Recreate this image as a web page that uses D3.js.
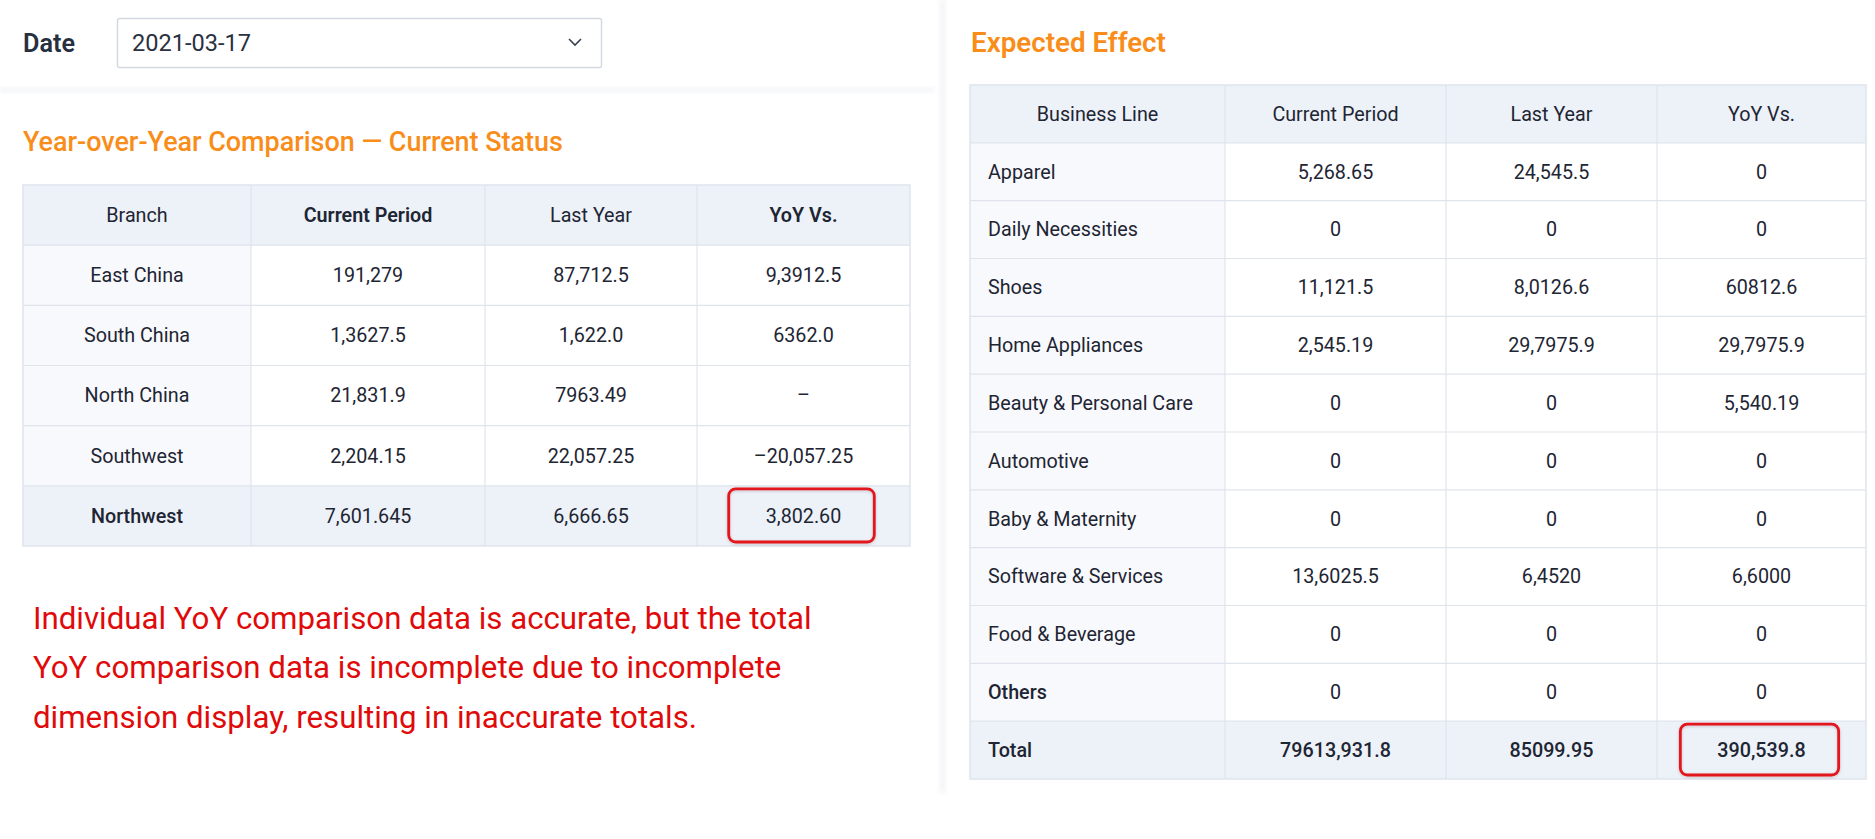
<!DOCTYPE html>
<html>
<head>
<meta charset="utf-8">
<script src="https://cdn.jsdelivr.net/npm/d3@7"></script>
<style>
  body { margin: 0; background: #fff; }
  svg { display: block; }
</style>
</head>
<body>
<svg id="chart" width="1875" height="839"></svg>
<script>
// ---- data ----
var dateValue = '2021-03-17';

var branchColumns = ['Branch', 'Current Period', 'Last Year', 'YoY Vs.'];
var branches = ['East China', 'South China', 'North China', 'Southwest', 'Northwest'];
var branchCurrent = ['191,279', '1,3627.5', '21,831.9', '2,204.15', '7,601.645'];
var branchLastYear = ['87,712.5', '1,622.0', '7963.49', '22,057.25', '6,666.65'];
var branchYoY = ['9,3912.5', '6362.0', '–', '–20,057.25', '3,802.60'];

var lineColumns = ['Business Line', 'Current Period', 'Last Year', 'YoY Vs.'];
var businessLines = ['Apparel', 'Daily Necessities', 'Shoes', 'Home Appliances',
  'Beauty & Personal Care', 'Automotive', 'Baby & Maternity',
  'Software & Services', 'Food & Beverage', 'Others'];
var lineCurrent = ['5,268.65', '0', '11,121.5', '2,545.19', '0', '0', '0', '13,6025.5', '0', '0'];
var lineLastYear = ['24,545.5', '0', '8,0126.6', '29,7975.9', '0', '0', '0', '6,4520', '0', '0'];
var lineYoY = ['0', '0', '60812.6', '29,7975.9', '5,540.19', '0', '0', '6,6000', '0', '0'];
var lineTotal = ['Total', '79613,931.8', '85099.95', '390,539.8'];

var leftTitle = 'Year-over-Year Comparison — Current Status';
var rightTitle = 'Expected Effect';
var noteLines = [
  'Individual YoY comparison data is accurate, but the total',
  'YoY comparison data is incomplete due to incomplete',
  'dimension display, resulting in inaccurate totals.'
];

// ---- look ----
var FONT = 'Roboto, "Noto Sans", sans-serif';
var ORANGE = '#f98d1a';
var INK = '#1e2533';
var HEAD_BG = '#edf1f8';
var FIRST_BG = '#f8f9fc';
var GRID = '#dfe4ec';
var RED = '#e2161b';

var svg = d3.select('#chart');

// font size that makes a sample string span a given width
function fitSize(sample, weight, width) {
  var t = svg.append('text')
    .attr('font-family', FONT)
    .attr('font-weight', weight)
    .attr('font-size', 100)
    .text(sample);
  var w = t.node().getComputedTextLength();
  t.remove();
  return 100 * width / w;
}

var cellSize = fitSize('Beauty & Personal Care', 400, 205);
var titleSize = fitSize(leftTitle, 500, 540);
var rightTitleSize = fitSize(rightTitle, 600, 195);
var noteSize = fitSize(noteLines[0], 400, 779);
var dateLabelSize = fitSize('Date', 600, 52);
var dateValueSize = fitSize(dateValue, 400, 119);

var defs = svg.append('defs');
defs.append('filter').attr('id', 'soft')
  .attr('x', '-50%').attr('y', '-50%').attr('width', '200%').attr('height', '200%')
  .append('feGaussianBlur').attr('stdDeviation', 2.5);
var glow = defs.append('filter').attr('id', 'glow')
  .attr('x', '-20%').attr('y', '-30%').attr('width', '140%').attr('height', '160%');
glow.append('feDropShadow').attr('dx', 0).attr('dy', 1).attr('stdDeviation', 1.5)
  .attr('flood-color', '#000').attr('flood-opacity', 0.18);

// panel separators
svg.append('rect').attr('x', 0).attr('y', 88).attr('width', 935).attr('height', 4)
  .attr('fill', '#f0f2f5').attr('filter', 'url(#soft)');
svg.append('rect').attr('x', 940).attr('y', 0).attr('width', 5).attr('height', 793)
  .attr('fill', '#f2f3f6').attr('filter', 'url(#soft)');

// ---- date picker ----
svg.append('text')
  .attr('x', 23).attr('y', 43).attr('dy', '0.35em')
  .attr('font-family', FONT).attr('font-weight', 600)
  .attr('font-size', dateLabelSize).attr('fill', '#27303f')
  .text('Date');
svg.append('rect')
  .attr('x', 117.5).attr('y', 18.5).attr('width', 484).attr('height', 49)
  .attr('rx', 2).attr('fill', '#fff').attr('stroke', '#d3d9e3').attr('stroke-width', 1.5);
svg.append('text')
  .attr('x', 132).attr('y', 43).attr('dy', '0.35em')
  .attr('font-family', FONT).attr('font-size', dateValueSize).attr('fill', '#2a3140')
  .text(dateValue);
svg.append('path')
  .attr('d', d3.line()([[569, 39], [575, 45], [581, 39]]))
  .attr('fill', 'none').attr('stroke', '#3a4252').attr('stroke-width', 1.6);

// ---- titles ----
svg.append('text')
  .attr('x', 23).attr('y', 142).attr('dy', '0.35em')
  .attr('font-family', FONT).attr('font-weight', 500)
  .attr('font-size', titleSize).attr('fill', ORANGE)
  .text(leftTitle);
svg.append('text')
  .attr('x', 971).attr('y', 42).attr('dy', '0.35em')
  .attr('font-family', FONT).attr('font-weight', 600)
  .attr('font-size', rightTitleSize).attr('fill', ORANGE)
  .text(rightTitle);

// ---- tables ----
function drawTable(opts) {
  var g = svg.append('g');
  var rows = opts.rows;
  var y = d3.scaleBand()
    .domain(d3.range(rows.length))
    .range([opts.top, opts.bottom]);
  var edges = opts.edges;
  var x0 = function(i) { return edges[i]; };
  var xw = function(i) { return edges[i + 1] - edges[i]; };

  var row = g.selectAll('g.row')
    .data(rows)
    .join('g')
    .attr('class', 'row')
    .attr('transform', function(d, i) { return 'translate(0,' + y(i) + ')'; });

  var cell = row.selectAll('g.cell')
    .data(function(d) {
      return d.cells.map(function(v, j) {
        return { v: v, j: j, row: d };
      });
    })
    .join('g')
    .attr('class', 'cell');

  cell.append('rect')
    .attr('x', function(d) { return x0(d.j); })
    .attr('width', function(d) { return xw(d.j); })
    .attr('height', y.bandwidth())
    .attr('fill', function(d) {
      if (d.row.shaded) return HEAD_BG;
      return d.j === 0 ? FIRST_BG : '#fff';
    });

  cell.append('text')
    .attr('x', function(d) {
      if (d.j === 0 && opts.leftFirst && !d.row.header) return x0(0) + 18;
      return x0(d.j) + xw(d.j) / 2;
    })
    .attr('y', y.bandwidth() / 2)
    .attr('dy', '0.35em')
    .attr('text-anchor', function(d) {
      return d.j === 0 && opts.leftFirst && !d.row.header ? 'start' : 'middle';
    })
    .attr('font-family', FONT)
    .attr('font-size', cellSize)
    .attr('font-weight', function(d) {
      if (d.row.boldCols && d.row.boldCols.indexOf(d.j) >= 0) return d.row.weight || 600;
      return d.row.bold ? 500 : 400;
    })
    .attr('fill', INK)
    .text(function(d) { return d.v; });

  // grid
  g.selectAll('line.h')
    .data(d3.range(1, rows.length))
    .join('line')
    .attr('x1', edges[0]).attr('x2', edges[edges.length - 1])
    .attr('y1', function(i) { return y(i); })
    .attr('y2', function(i) { return y(i); })
    .attr('stroke', GRID).attr('stroke-width', 1.2);
  g.selectAll('line.v')
    .data(edges.slice(1, -1))
    .join('line')
    .attr('x1', function(d) { return d; }).attr('x2', function(d) { return d; })
    .attr('y1', opts.top).attr('y2', opts.bottom)
    .attr('stroke', GRID).attr('stroke-width', 1.2);
  g.append('rect')
    .attr('x', edges[0]).attr('y', opts.top)
    .attr('width', edges[edges.length - 1] - edges[0])
    .attr('height', opts.bottom - opts.top)
    .attr('fill', 'none').attr('stroke', GRID).attr('stroke-width', 1.5);

  // highlight box around the flagged cell
  var hr = opts.highlight[0], hc = opts.highlight[1];
  var ht = row.filter(function(d, i) { return i === hr; })
    .selectAll('text').filter(function(d) { return d.j === hc; });
  var tw = ht.node().getComputedTextLength();
  var cx = x0(hc) + xw(hc) / 2 - 2;
  g.append('rect')
    .attr('x', cx - tw / 2 - 35)
    .attr('y', y(hr) + 3)
    .attr('width', tw + 70)
    .attr('height', y.bandwidth() - 7)
    .attr('rx', 7)
    .attr('fill', 'none')
    .attr('stroke', RED)
    .attr('stroke-width', 2.8)
    .attr('filter', 'url(#glow)');
}

var leftRows = [{ cells: branchColumns, header: true, shaded: true, boldCols: [1, 3] }];
branches.forEach(function(b, i) {
  var last = i === branches.length - 1;
  leftRows.push({
    cells: [b, branchCurrent[i], branchLastYear[i], branchYoY[i]],
    boldCols: last ? [0] : null,
    weight: 500,
    shaded: last
  });
});

drawTable({
  rows: leftRows,
  edges: [23, 251, 485, 697, 910],
  top: 185,
  bottom: 546,
  leftFirst: false,
  highlight: [leftRows.length - 1, 3]
});

var rightRows = [{ cells: lineColumns, header: true, shaded: true }];
businessLines.forEach(function(b, i) {
  rightRows.push({
    cells: [b, lineCurrent[i], lineLastYear[i], lineYoY[i]],
    boldCols: b === 'Others' ? [0] : null,
    weight: 500
  });
});
rightRows.push({ cells: lineTotal, bold: true, shaded: true });

drawTable({
  rows: rightRows,
  edges: [970, 1225, 1446, 1657, 1866],
  top: 85,
  bottom: 779,
  leftFirst: true,
  highlight: [rightRows.length - 1, 3]
});

// ---- note ----
svg.append('g').selectAll('text')
  .data(noteLines)
  .join('text')
  .attr('x', 33)
  .attr('y', function(d, i) { return 618 + i * 49.5; })
  .attr('dy', '0.35em')
  .attr('font-family', FONT)
  .attr('font-size', noteSize)
  .attr('fill', '#e00a0a')
  .text(function(d) { return d; });
</script>
</body>
</html>
